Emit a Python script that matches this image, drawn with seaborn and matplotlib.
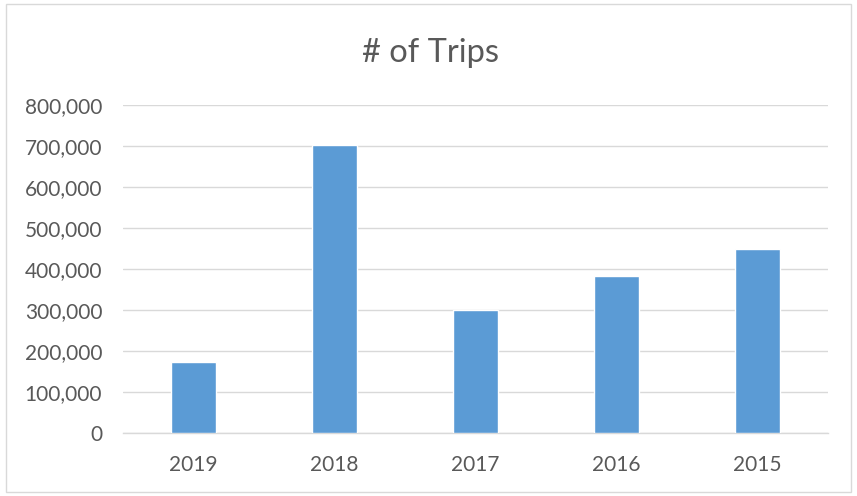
import matplotlib
matplotlib.use("Agg")
import matplotlib.pyplot as plt
import seaborn as sns
import pandas as pd
from matplotlib.patches import Rectangle
from matplotlib.ticker import FuncFormatter

# Chart data
years = ["2019", "2018", "2017", "2016", "2015"]
trips = [173000, 702000, 300000, 383000, 449000]

df = pd.DataFrame({"year": years, "trips": trips})

sns.set_style("white")
plt.rcParams["font.family"] = ["Lato", "DejaVu Sans"]

fig = plt.figure(figsize=(8.57, 4.96), dpi=100)
ax = fig.add_axes([123 / 857, 63 / 496, 705 / 857, 328 / 496])

sns.barplot(data=df, x="year", y="trips", color="#5B9BD5", width=0.315,
            saturation=1, ax=ax, zorder=3)

ax.set_ylim(0, 800000)
ax.set_yticks(range(0, 800001, 100000))
ax.yaxis.set_major_formatter(FuncFormatter(lambda v, p: f"{int(v):,}"))
ax.grid(axis="y", color="#D9D9D9", linewidth=1, zorder=0)
ax.set_axisbelow(True)

for side in ["top", "right", "left"]:
    ax.spines[side].set_visible(False)
ax.spines["bottom"].set_color("#D9D9D9")
ax.spines["bottom"].set_linewidth(1)

ax.tick_params(axis="y", length=0, pad=15, labelsize=15, labelcolor="#595959")
ax.tick_params(axis="x", length=0, pad=16, labelsize=15, labelcolor="#595959")
ax.set_xlabel("")
ax.set_ylabel("")

fig.text(0.502, 0.893, "# of Trips", ha="center", va="center",
         fontsize=23.5, color="#595959")

# light chart border
fig.patches.append(Rectangle((6 / 857, 4 / 496), 845 / 857, 488 / 496,
                             transform=fig.transFigure, fill=False,
                             edgecolor="#D9D9D9", linewidth=1))

fig.savefig("out.png", dpi=100)
